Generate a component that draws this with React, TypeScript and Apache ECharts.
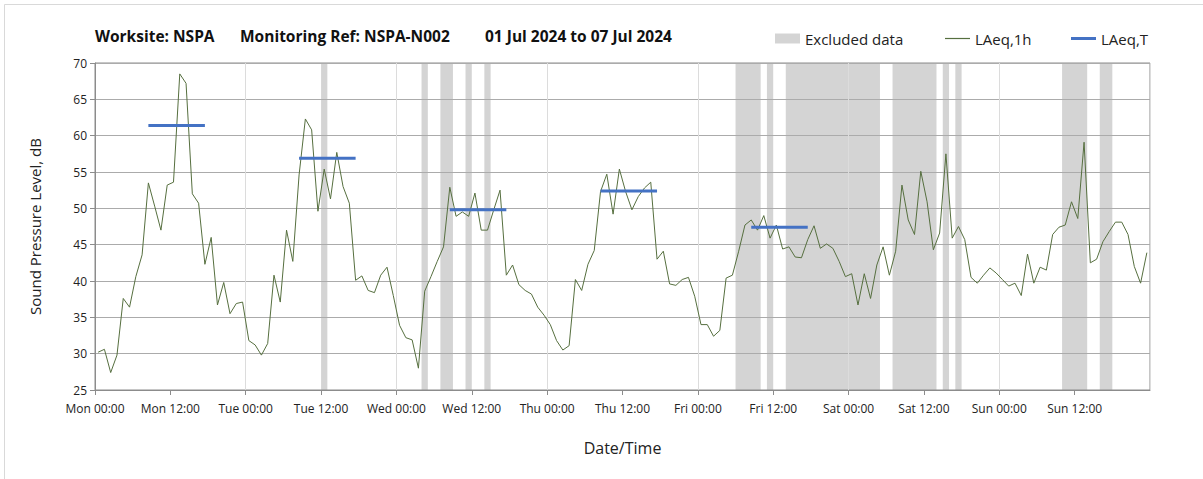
import React, { useEffect, useRef } from "react";
import * as echarts from "echarts";

// Hourly LAeq,1h values (Mon 00:00 .. Sun 23:00), dB
const laeq1h: number[] = [
  30.2, 30.6, 27.4, 29.8, 37.6, 36.4, 40.6, 43.6, 53.5, 50.3,
  47.0, 53.2, 53.6, 68.5, 67.2, 52.0, 50.7, 42.3, 46.0, 36.7,
  39.8, 35.5, 36.9, 37.1, 31.8, 31.2, 29.8, 31.4, 40.8, 37.1,
  47.0, 42.7, 54.6, 62.3, 60.8, 49.6, 55.4, 51.3, 57.7, 53.0,
  50.7, 40.1, 40.7, 38.7, 38.4, 40.8, 41.9, 38.0, 33.9, 32.2,
  31.9, 28.0, 38.6, 40.6, 42.7, 44.7, 52.9, 48.9, 49.5, 48.9,
  52.1, 47.0, 47.0, 49.8, 52.5, 40.8, 42.2, 39.5, 38.7, 38.2,
  36.4, 35.3, 34.0, 31.8, 30.5, 31.1, 40.2, 38.7, 42.3, 44.2,
  52.3, 54.7, 49.2, 55.4, 52.3, 49.8, 51.6, 52.8, 53.6, 43.0,
  44.1, 39.6, 39.4, 40.2, 40.5, 37.9, 34.0, 34.0, 32.4, 33.2,
  40.4, 40.8, 44.1, 47.7, 48.4, 47.0, 49.0, 45.9, 47.7, 44.4,
  44.7, 43.3, 43.2, 45.7, 47.6, 44.5, 45.1, 44.5, 42.7, 40.6,
  41.0, 36.7, 41.0, 37.6, 42.2, 44.7, 40.8, 44.1, 53.2, 48.4,
  46.4, 55.1, 50.9, 44.3, 46.6, 57.5, 45.9, 47.5, 45.7, 40.5,
  39.7, 40.8, 41.8, 41.1, 40.2, 39.3, 39.7, 38.0, 43.7, 39.7,
  41.9, 41.5, 46.4, 47.4, 47.7, 50.9, 48.6, 59.1, 42.5, 43.0,
  45.4, 46.8, 48.1, 48.1, 46.4, 42.0, 39.7, 43.9,
];

// LAeq,T daytime periods (hours from Mon 00:00)
const laeqTStart: number[] = [8.5, 32.5, 56.5, 80.5, 104.5];
const laeqTEnd: number[] = [17.5, 41.5, 65.5, 89.5, 113.5];
const laeqTValue: number[] = [61.4, 56.9, 49.8, 52.4, 47.4];

// Excluded data periods (hours from Mon 00:00)
const excludedStart: number[] = [36, 52, 55, 59, 62, 102, 107, 110, 127, 135, 137, 154, 160];
const excludedEnd: number[] = [37, 53, 57, 60, 63, 106, 108, 125, 134, 136, 138, 158, 162];

const xTickLabels: string[] = [
  "Mon 00:00", "Mon 12:00", "Tue 00:00", "Tue 12:00", "Wed 00:00", "Wed 12:00",
  "Thu 00:00", "Thu 12:00", "Fri 00:00", "Fri 12:00", "Sat 00:00", "Sat 12:00",
  "Sun 00:00", "Sun 12:00",
];

const FONT = '"Open Sans", "Noto Sans", sans-serif';

export default function App() {
  const ref = useRef<HTMLDivElement>(null);

  useEffect(() => {
    if (!ref.current) return;
    const chart = echarts.init(ref.current, null, { renderer: "svg" });

    const series: any[] = [
      {
        name: "Excluded data",
        type: "line",
        data: [],
        color: "#d4d4d4",
        symbol: "none",
        z: -1,
        markArea: {
          silent: true,
          z: -1,
          itemStyle: { color: "#d4d4d4" },
          data: excludedStart.map((s, i) => [{ xAxis: s }, { xAxis: excludedEnd[i] }]),
        },
      },
      {
        name: "LAeq,1h",
        type: "line",
        data: laeq1h.map((v, i) => [i + 0.5, v]),
        symbol: "none",
        color: "#566f3f",
        lineStyle: { color: "#566f3f", width: 1 },
        z: 2,
      },
      ...laeqTValue.map((v, i) => ({
        name: "LAeq,T",
        type: "line",
        data: [
          [laeqTStart[i], v],
          [laeqTEnd[i], v],
        ],
        symbol: "none",
        color: "#4472c4",
        lineStyle: { color: "#4472c4", width: 3 },
        z: 3,
      })),
    ];

    const legendBase = {
      top: 31,
      padding: 0,
      itemWidth: 25,
      itemGap: 10,
      selectedMode: false,
      textStyle: { fontSize: 15, color: "#222", fontFamily: FONT },
    };

    const titleStyle = { fontSize: 15.5, fontWeight: "bold", fontFamily: FONT, fill: "#111", verticalAlign: "middle" };

    chart.setOption({
      animation: false,
      backgroundColor: "#ffffff",
      textStyle: { fontFamily: FONT },
      grid: {
        left: 95,
        right: 53,
        top: 63,
        bottom: 89,
        show: true,
        borderColor: "#8c8c8c",
        borderWidth: 1,
        backgroundColor: "transparent",
      },
      legend: [
        { ...legendBase, left: 775, itemHeight: 10, data: [{ name: "Excluded data", icon: "rect" }] },
        { ...legendBase, left: 945, itemHeight: 1.2, data: [{ name: "LAeq,1h", icon: "rect" }] },
        { ...legendBase, left: 1071, itemHeight: 3, data: [{ name: "LAeq,T", icon: "rect" }] },
      ],
      xAxis: [
        {
          type: "value",
          min: 0,
          max: 168,
          interval: 12,
          name: "Date/Time",
          nameLocation: "middle",
          nameGap: 50,
          nameTextStyle: { fontSize: 16, color: "#222", fontFamily: FONT },
          axisLine: { show: true, lineStyle: { color: "#8c8c8c", width: 1 } },
          axisTick: { show: true, length: 5, lineStyle: { color: "#8c8c8c" } },
          axisLabel: {
            fontSize: 12,
            color: "#222",
            margin: 12,
            showMaxLabel: false,
            formatter: (v: number) => xTickLabels[Math.round(v / 12)] ?? "",
          },
          splitLine: { show: false },
        },
        {
          type: "value",
          min: 0,
          max: 168,
          interval: 24,
          position: "bottom",
          axisLine: { show: false },
          axisTick: { show: false },
          axisLabel: { show: false },
          splitLine: { show: true, lineStyle: { color: "#dcdcdc", width: 1 } },
        },
      ],
      yAxis: {
        type: "value",
        min: 25,
        max: 70,
        interval: 5,
        name: "Sound Pressure Level, dB",
        nameLocation: "middle",
        nameRotate: 90,
        nameGap: 53,
        nameTextStyle: { fontSize: 15, color: "#222", fontFamily: FONT },
        axisLine: { show: true, lineStyle: { color: "#8c8c8c", width: 1 } },
        axisTick: { show: true, inside: false, length: 5, lineStyle: { color: "#8c8c8c" } },
        axisLabel: { fontSize: 12, color: "#222", margin: 8 },
        splitLine: { show: true, lineStyle: { color: "#ababab", width: 1 } },
      },
      graphic: [
        { type: "line", shape: { x1: 4.5, y1: 4.5, x2: 1203, y2: 4.5 }, style: { stroke: "#d9d9d9", lineWidth: 1 }, silent: true },
        { type: "line", shape: { x1: 4.5, y1: 4.5, x2: 4.5, y2: 479 }, style: { stroke: "#d9d9d9", lineWidth: 1 }, silent: true },
        { type: "text", x: 95, y: 36, style: { ...titleStyle, text: "Worksite: NSPA" } },
        { type: "text", x: 240, y: 36, style: { ...titleStyle, text: "Monitoring Ref: NSPA-N002" } },
        { type: "text", x: 485, y: 36, style: { ...titleStyle, text: "01 Jul 2024 to 07 Jul 2024" } },
      ],
      series,
    });

    return () => chart.dispose();
  }, []);

  return (
    <div
      ref={ref}
      style={{ position: "fixed", left: 0, top: 0, width: 1203, height: 479, background: "#fff" }}
    />
  );
}
